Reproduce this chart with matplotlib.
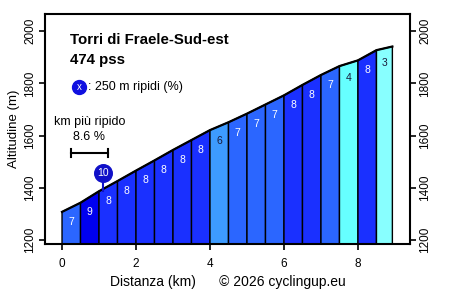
import matplotlib
matplotlib.use("Agg")
import matplotlib.pyplot as plt
from matplotlib.patches import Polygon

# ---- data ----
dist_km = [0.0, 0.5, 1.0, 1.5, 2.0, 2.5, 3.0, 3.5, 4.0, 4.5, 5.0, 5.5, 6.0, 6.5, 7.0, 7.5, 8.0, 8.5, 8.93]
elev_m = [1308, 1343, 1387, 1426, 1466, 1505, 1545, 1583, 1621, 1651, 1684, 1719, 1754, 1794, 1832, 1866, 1888, 1927, 1941]
grad_labels = [7, 9, 8, 8, 8, 8, 8, 8, 6, 7, 7, 7, 8, 8, 7, 4, 8, 3]

steep_250_km = 1.10
steep_250_val = 10
steep_km_start = 0.23
steep_km_end = 1.25
steep_km_val = 8.6

title = "Torri di Fraele-Sud-est"
subtitle = "474 pss"
x_ticks = [0, 2, 4, 6, 8]
y_ticks = [1200, 1400, 1600, 1800, 2000]

grad_colors = {3: "#88FFFF", 4: "#66FFFF", 5: "#55CCFF", 6: "#3D9BFF", 7: "#2B66FF",
               8: "#1A30FF", 9: "#0000F0", 10: "#0000C0"}
text_dark = {3, 4, 5, 6}

plt.rcParams["font.family"] = ["Liberation Sans", "DejaVu Sans"]

fig = plt.figure(figsize=(4.5, 2.91), dpi=100)
ax = fig.add_axes([0.1, 0.1615, 0.811, 0.79])

ymin = 1185
for i, g in enumerate(grad_labels):
    x0, x1 = dist_km[i], dist_km[i + 1]
    y0, y1 = elev_m[i], elev_m[i + 1]
    poly = Polygon([(x0, ymin), (x0, y0), (x1, y1), (x1, ymin)], closed=True,
                   facecolor=grad_colors[g], edgecolor="black", linewidth=1.0, zorder=2)
    ax.add_patch(poly)
    xm = (x0 + x1) / 2
    ym = (y0 + y1) / 2 - 57
    ax.text(xm, ym, str(g), ha="center", va="center", fontsize=7.5,
            color=("#1a1a3a" if g in text_dark else "white"), zorder=3)

ax.plot(dist_km, elev_m, color="black", linewidth=1.6, zorder=4)

# steepest 250 m marker
prof_at = elev_m[2] + (steep_250_km - dist_km[2]) / (dist_km[3] - dist_km[2]) * (elev_m[3] - elev_m[2])
ax.plot([steep_250_km, steep_250_km], [prof_at - 5, 1440], color="#1010C8", linewidth=1.5, zorder=5)
ax.scatter([steep_250_km], [1455], s=160, color="#1010C8", zorder=6)
ax.text(steep_250_km, 1455, str(steep_250_val), ha="center", va="center", fontsize=7.5,
        color="white", zorder=7)

# steepest km bracket
xm = (steep_km_start + steep_km_end) / 2
ax.text(xm - 0.0, 1651, "km più ripido", ha="center", va="center", fontsize=9)
ax.text(xm, 1594, f"{steep_km_val} %", ha="center", va="center", fontsize=9)
ax.plot([steep_km_start, steep_km_end], [1534, 1534], color="black", linewidth=1.5)
ax.plot([steep_km_start, steep_km_start], [1518, 1550], color="black", linewidth=1.5)
ax.plot([steep_km_end, steep_km_end], [1518, 1550], color="black", linewidth=1.5)

# title & legend
ax.text(0.068, 0.887, title, transform=ax.transAxes, ha="left", va="center",
        fontsize=10.8, fontweight="bold")
ax.text(0.068, 0.80, subtitle, transform=ax.transAxes, ha="left", va="center",
        fontsize=10.8, fontweight="bold")
ax.scatter([0.094], [0.683], s=100, color="#1010E0", transform=ax.transAxes, zorder=6)
ax.text(0.094, 0.683, "x", transform=ax.transAxes, ha="center", va="center",
        fontsize=7, color="white", zorder=7)
ax.text(0.119, 0.683, ": 250 m ripidi (%)", transform=ax.transAxes, ha="left",
        va="center", fontsize=9)

ax.set_xlim(-0.46, 9.405)
ax.set_ylim(ymin, 2065)
ax.set_xticks(x_ticks)
ax.set_yticks(y_ticks)
ax.tick_params(axis="both", direction="out", length=4, width=1.2, labelsize=8.5)
ax.tick_params(axis="x", pad=6)
ax.tick_params(axis="y", right=True, labelright=True, pad=2.5)
for t in ax.yaxis.get_major_ticks():
    t.label1.set_rotation(90)
    t.label1.set_va("center")
    t.label2.set_rotation(90)
    t.label2.set_va("center")
for s in ax.spines.values():
    s.set_linewidth(1.5)

ax.set_xlabel("Distanza (km)      © 2026 cyclingup.eu", fontsize=10, labelpad=4)
ax.set_ylabel("Altitudine (m)", fontsize=9.5, labelpad=3)

fig.savefig("out.png", dpi=100)
